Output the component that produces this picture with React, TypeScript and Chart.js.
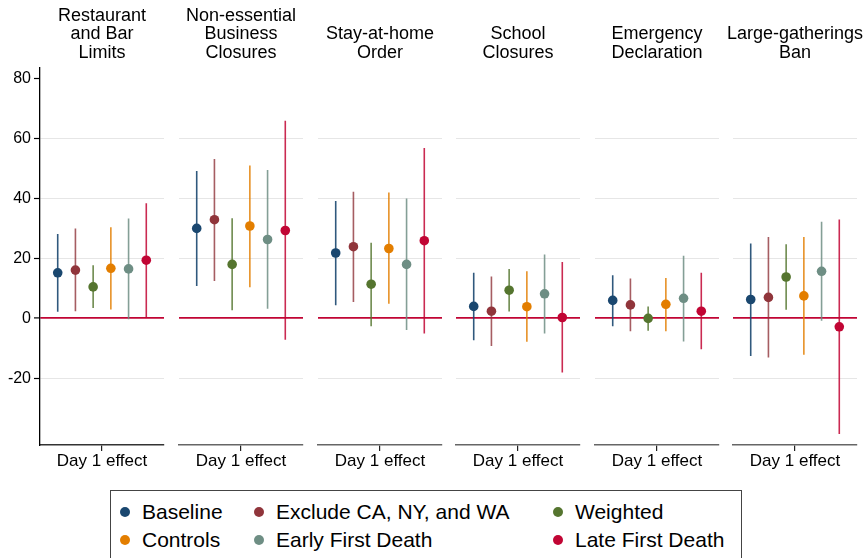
import React, { useEffect, useRef } from 'react';
import { Chart, registerables } from 'chart.js';

Chart.register(...registerables);

// ---------------- data ----------------
const panelTitles: string[][] = [
  ['Restaurant', 'and Bar', 'Limits'],
  ['Non-essential', 'Business', 'Closures'],
  ['', 'Stay-at-home', 'Order'],
  ['', 'School', 'Closures'],
  ['', 'Emergency', 'Declaration'],
  ['', 'Large-gatherings', 'Ban'],
];
const xTickLabel = 'Day 1 effect';
const yTickValues = [-20, 0, 20, 40, 60, 80];

const seriesNames = [
  'Baseline',
  'Exclude CA, NY, and WA',
  'Weighted',
  'Controls',
  'Early First Death',
  'Late First Death',
];

// point estimates, one value per panel
const baselineEst = [15.1, 29.9, 21.7, 3.9, 5.9, 6.2];
const excludeEst = [16.0, 32.8, 23.8, 2.3, 4.4, 6.9];
const weightedEst = [10.4, 17.9, 11.3, 9.3, -0.1, 13.7];
const controlsEst = [16.6, 30.7, 23.2, 3.8, 4.6, 7.4];
const earlyEst = [16.4, 26.2, 17.9, 8.1, 6.6, 15.6];
const lateEst = [19.3, 29.2, 25.8, 0.2, 2.3, -2.9];

// confidence interval lower bounds
const baselineLo = [2.1, 10.7, 4.3, -7.4, -2.7, -12.6];
const excludeLo = [2.3, 12.4, 5.4, -9.3, -4.4, -13.1];
const weightedLo = [3.4, 2.6, -2.7, 2.2, -4.2, 2.8];
const controlsLo = [2.9, 10.3, 4.8, -7.9, -4.4, -12.2];
const earlyLo = [-0.4, 3.1, -4.0, -5.1, -7.8, -0.9];
const lateLo = [0.2, -7.2, -5.1, -18.1, -10.4, -38.6];

// confidence interval upper bounds
const baselineHi = [28.0, 49.0, 39.0, 15.1, 14.3, 24.9];
const excludeHi = [29.9, 53.0, 42.1, 13.9, 13.2, 27.0];
const weightedHi = [17.6, 33.3, 25.1, 16.4, 3.9, 24.6];
const controlsHi = [30.3, 50.9, 41.9, 15.6, 13.4, 27.0];
const earlyHi = [33.2, 49.4, 39.9, 21.2, 20.8, 32.1];
const lateHi = [38.3, 65.8, 56.7, 18.7, 15.1, 32.9];

const estimates = [baselineEst, excludeEst, weightedEst, controlsEst, earlyEst, lateEst];
const lowers = [baselineLo, excludeLo, weightedLo, controlsLo, earlyLo, lateLo];
const uppers = [baselineHi, excludeHi, weightedHi, controlsHi, earlyHi, lateHi];

// ---------------- styles ----------------
const seriesColors = ['#1a476f', '#90353b', '#55752f', '#e37e00', '#6e8e84', '#c10534'];
const ciColors = [
  'rgba(26,71,111,0.9)',
  'rgba(144,53,59,0.8)',
  'rgba(85,117,47,0.85)',
  'rgba(227,126,0,0.85)',
  'rgba(110,142,132,0.85)',
  'rgba(193,5,52,0.85)',
];
const FONT = '"Liberation Sans", Arial, Helvetica, sans-serif';
const Y_MIN = -42.3;
const Y_MAX = 83.6;
const CANVAS_H = 480;
const PANEL_W = 124;
const panelLefts = [40, 179, 317.5, 456, 594.5, 733];

Chart.defaults.font.family = FONT;

type PanelProps = { index: number };

function Panel({ index }: PanelProps) {
  const ref = useRef<HTMLCanvasElement | null>(null);
  const isFirst = index === 0;
  const sideL = isFirst ? 40 : 12;
  const sideR = isFirst ? 40 : 12;
  const canvasLeft = panelLefts[index] - sideL;
  const canvasW = PANEL_W + sideL + sideR;

  useEffect(() => {
    if (!ref.current) return;
    const n = seriesNames.length;
    const datasets: any[] = [];
    seriesNames.forEach((name, s) => {
      const x = s - (n - 1) / 2;
      datasets.push({
        type: 'scatter',
        label: name + ' CI',
        data: [
          { x, y: lowers[s][index] },
          { x, y: uppers[s][index] },
        ],
        showLine: true,
        borderColor: ciColors[s],
        borderWidth: 1.6,
        pointRadius: 0,
        pointHoverRadius: 0,
        order: 2,
      });
      datasets.push({
        type: 'scatter',
        label: name,
        data: [{ x, y: estimates[s][index] }],
        pointRadius: 4.8,
        pointHoverRadius: 4.8,
        backgroundColor: seriesColors[s],
        borderColor: seriesColors[s],
        borderWidth: 0,
        order: 1,
      });
    });

    const chart = new Chart(ref.current, {
      type: 'scatter',
      data: { datasets },
      options: {
        animation: false,
        responsive: false,
        events: [],
        layout: { padding: 0 },
        plugins: {
          legend: { display: false },
          tooltip: { enabled: false },
          title: {
            display: true,
            text: panelTitles[index],
            color: '#000',
            font: { family: FONT, size: 18, weight: 'normal', lineHeight: 18.6 / 18 },
            padding: { top: 6.5, bottom: 5 },
          },
        },
        scales: {
          x: {
            type: 'linear',
            min: -3.5,
            max: 3.5,
            afterBuildTicks: (scale: any) => {
              scale.ticks = [{ value: 0 }];
            },
            afterFit: (scale: any) => {
              scale.height = CANVAS_H - 445;
            },
            ticks: {
              callback: () => xTickLabel,
              color: '#000',
              font: { family: FONT, size: 17 },
              padding: 0.5,
              maxRotation: 0,
              autoSkip: false,
            },
            grid: {
              drawOnChartArea: false,
              drawTicks: true,
              tickLength: 6,
              color: '#222',
              lineWidth: 1.2,
            },
            border: { display: true, color: isFirst ? '#333' : '#666', width: 1.5 },
          },
          y: {
            type: 'linear',
            position: 'left',
            min: Y_MIN,
            max: Y_MAX,
            afterBuildTicks: (scale: any) => {
              scale.ticks = yTickValues.map((v) => ({ value: v }));
            },
            afterFit: (scale: any) => {
              scale.width = sideL;
            },
            ticks: {
              display: isFirst,
              color: '#000',
              font: { family: FONT, size: 16 },
              padding: 3,
            },
            grid: {
              drawTicks: isFirst,
              tickLength: 6,
              tickColor: '#000',
              tickWidth: 1.2,
              color: (ctx: any) => {
                const v = ctx.tick ? ctx.tick.value : null;
                if (v === 0) return '#c10534';
                if (v === 80) return 'rgba(0,0,0,0)';
                return '#e6e6e6';
              },
              lineWidth: (ctx: any) => {
                const v = ctx.tick ? ctx.tick.value : null;
                return v === 0 ? 1.8 : 1;
              },
            },
            border: { display: isFirst, color: '#000', width: 1.3 },
          },
          yR: {
            type: 'linear',
            position: 'right',
            display: true,
            min: 0,
            max: 1,
            afterFit: (scale: any) => {
              scale.width = sideR;
            },
            ticks: { display: false },
            grid: { display: false, drawTicks: false },
            border: { display: false },
          },
        },
      } as any,
    });
    return () => chart.destroy();
  }, [index]);

  return (
    <canvas
      ref={ref}
      width={canvasW}
      height={CANVAS_H}
      style={{ position: 'absolute', left: canvasLeft, top: 0, width: canvasW, height: CANVAS_H }}
    />
  );
}

const legendColLeft = [14, 148, 447];
const legendRowTop = [21, 49];

function Legend() {
  return (
    <div
      style={{
        position: 'absolute',
        left: 110,
        top: 490,
        width: 632,
        height: 90,
        border: '1px solid #444',
        boxSizing: 'border-box',
        background: '#fff',
        fontFamily: FONT,
      }}
    >
      {seriesNames.map((name, i) => {
        const col = i % 3;
        const row = Math.floor(i / 3);
        const cx = legendColLeft[col];
        const cy = legendRowTop[row];
        return (
          <React.Fragment key={name}>
            <div
              style={{
                position: 'absolute',
                left: cx - 5,
                top: cy - 5,
                width: 10,
                height: 10,
                borderRadius: '50%',
                background: seriesColors[i],
              }}
            />
            <div
              style={{
                position: 'absolute',
                left: cx + 17,
                top: cy - 13,
                height: 26,
                lineHeight: '26px',
                fontSize: 21,
                color: '#000',
                whiteSpace: 'nowrap',
              }}
            >
              {name}
            </div>
          </React.Fragment>
        );
      })}
    </div>
  );
}

export default function App() {
  return (
    <div
      style={{
        position: 'absolute',
        left: 0,
        top: 0,
        width: 867,
        height: 558,
        overflow: 'hidden',
        background: '#fff',
      }}
    >
      {panelTitles.map((_, i) => (
        <Panel key={i} index={i} />
      ))}
      <Legend />
    </div>
  );
}
